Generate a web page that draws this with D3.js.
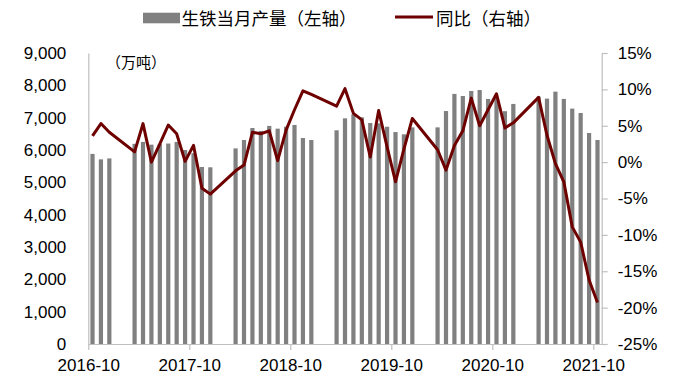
<!DOCTYPE html>
<html><head><meta charset="utf-8">
<script src="https://cdn.jsdelivr.net/npm/d3@7"></script>
<style>
body{margin:0;background:#fff;}
svg{display:block;}
.num{font-family:"Liberation Sans",Arial,sans-serif;font-size:17px;fill:#000;}
.cjk{font-family:"Noto Sans CJK SC","Noto Sans",sans-serif;fill:#000;}
</style>
</head><body>
<svg id="c" width="678" height="383"></svg>
<script>
const months = ["2016-10","2016-11","2016-12","2017-01","2017-02","2017-03","2017-04","2017-05","2017-06","2017-07","2017-08","2017-09","2017-10","2017-11","2017-12",
"2018-01","2018-02","2018-03","2018-04","2018-05","2018-06","2018-07","2018-08","2018-09","2018-10","2018-11","2018-12",
"2019-01","2019-02","2019-03","2019-04","2019-05","2019-06","2019-07","2019-08","2019-09","2019-10","2019-11","2019-12",
"2020-01","2020-02","2020-03","2020-04","2020-05","2020-06","2020-07","2020-08","2020-09","2020-10","2020-11","2020-12",
"2021-01","2021-02","2021-03","2021-04","2021-05","2021-06","2021-07","2021-08","2021-09","2021-10"];
const production = [5880,5710,5740,null,null,6190,6250,6165,6180,6200,6250,6000,5900,5475,5465,
null,null,6050,6310,6680,6590,6745,6660,6720,6775,6370,6310,
null,null,6610,6980,7105,7010,6835,6825,6720,6555,6485,6700,
null,null,6700,7205,7735,7670,7825,7855,7580,7600,7200,7425,
null,null,7650,7590,7805,7580,7280,7145,6525,6310];
const yoy = [3.6,5.3,4.1,null,null,1.4,5.3,0.0,2.5,5.1,3.9,0.1,2.3,-3.6,-4.4,
null,null,-1.2,-0.4,4.1,3.9,4.3,0.2,4.4,7.2,9.8,9.3,
null,null,7.7,10.1,6.7,5.8,0.7,7.1,2.1,-2.7,1.8,6.0,
null,null,1.7,-1.1,2.3,4.3,8.8,5.0,7.2,9.4,4.7,5.4,
null,null,8.9,3.7,-0.2,-2.7,-8.9,-11.0,-16.2,-19.3];
const leftTicks = [0,1000,2000,3000,4000,5000,6000,7000,8000,9000];
const rightTicks = [-25,-20,-15,-10,-5,0,5,10,15];
const xTickIdx = [0,12,24,36,48,60];
const legendBar = "生铁当月产量（左轴）";
const legendLine = "同比（右轴）";
const unitLabel = "（万吨）";

const svg = d3.select("#c");
const L = 88.3, R = 601.7, T = 53, B = 344;
const x = d3.scaleBand().domain(months).range([L, R]).paddingInner(0.5).paddingOuter(0.25);
const xi = d3.scaleLinear().domain([0, months.length]).range([L, R]);
const yL = d3.scaleLinear().domain([0, 9000]).range([B, T]);
const yR = d3.scaleLinear().domain([-25, 15]).range([B, T]);
const axisColor = "#bfbfbf";

// bars
svg.append("g").selectAll("rect")
  .data(months.map((m,i)=>({m, v:production[i]})).filter(d=>d.v!=null))
  .join("rect")
  .attr("x", d=>x(d.m)).attr("width", x.bandwidth())
  .attr("y", d=>yL(d.v)).attr("height", d=>B - yL(d.v))
  .attr("fill", "#808080");

// left axis
const gL = svg.append("g").attr("transform", `translate(${L},0)`)
  .call(d3.axisLeft(yL).tickValues(leftTicks).tickSize(0).tickPadding(22).tickFormat(d3.format(",")));
gL.select(".domain").attr("stroke", axisColor).attr("stroke-width",1.2);
gL.selectAll("text").attr("class","num").attr("font-family",null).attr("font-size",null);

// right axis
const gR = svg.append("g").attr("transform", `translate(${R},0)`)
  .call(d3.axisRight(yR).tickValues(rightTicks).tickSizeInner(6).tickSizeOuter(0).tickPadding(10).tickFormat(d=>d+"%"));
gR.select(".domain").attr("stroke", axisColor).attr("stroke-width",1.2);
gR.selectAll(".tick line").attr("stroke", axisColor).attr("stroke-width",1.2);
gR.selectAll("text").attr("class","num").attr("font-family",null).attr("font-size",null);

// bottom axis
const gB = svg.append("g").attr("transform", `translate(0,${B})`)
  .call(d3.axisBottom(xi).tickValues(xTickIdx).tickSizeInner(6).tickSizeOuter(0).tickPadding(9).tickFormat(i=>months[i]));
gB.select(".domain").attr("stroke", axisColor).attr("stroke-width",1.2);
gB.selectAll(".tick line").attr("stroke", axisColor).attr("stroke-width",1.2);
gB.selectAll("text").attr("class","num").attr("font-family",null).attr("font-size",null);

// line
const pts = months.map((m,i)=>({m, v:yoy[i]})).filter(d=>d.v!=null);
svg.append("path").datum(pts)
  .attr("fill","none").attr("stroke","#6e0000").attr("stroke-width",3).attr("stroke-linejoin","round")
  .attr("d", d3.line().x(d=>x(d.m)+x.bandwidth()/2).y(d=>yR(d.v)));

// unit label
svg.append("text").attr("class","cjk").attr("x",106).attr("y",68).attr("font-size",15).text(unitLabel);

// legend
svg.append("rect").attr("x",143).attr("y",12.7).attr("width",37).attr("height",10.6).attr("fill","#808080");
svg.append("text").attr("class","cjk").attr("x",181.5).attr("y",24.5).attr("font-size",17.5).text(legendBar);
svg.append("line").attr("x1",395).attr("x2",433).attr("y1",17).attr("y2",17).attr("stroke","#6e0000").attr("stroke-width",3);
svg.append("text").attr("class","cjk").attr("x",436).attr("y",24.5).attr("font-size",17.5).text(legendLine);
</script>
</body></html>
